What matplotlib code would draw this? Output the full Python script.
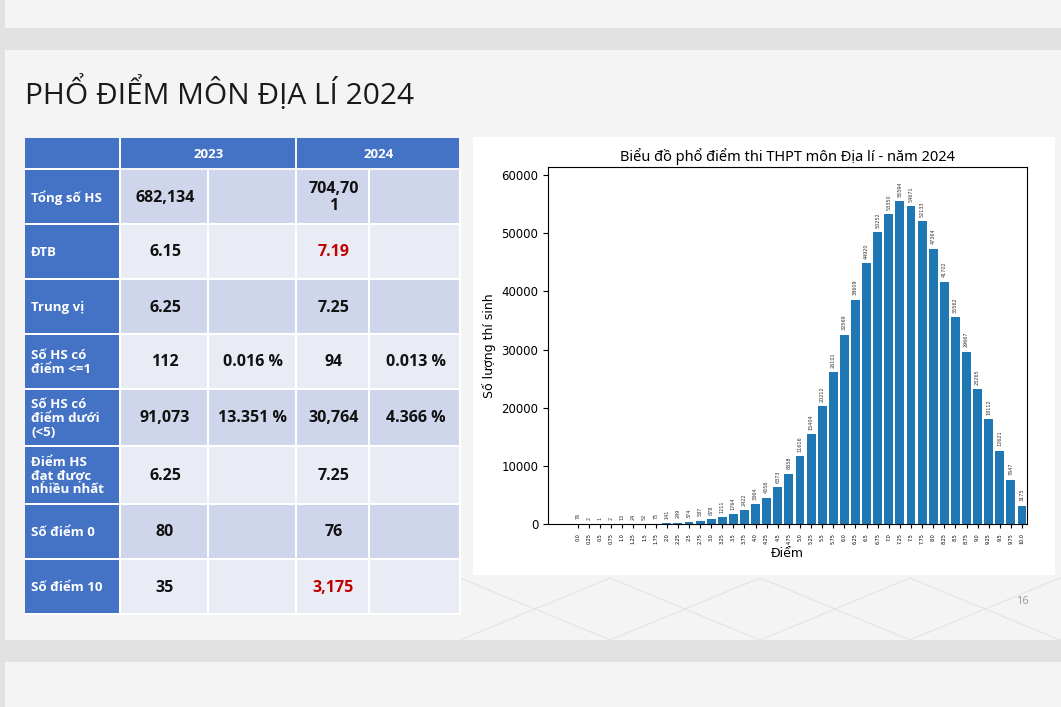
import numpy as np
import matplotlib.pyplot as plt
from matplotlib.patches import Rectangle

# ---- du lieu ----
diem = np.arange(0, 10.01, 0.25)
so_luong = [76, 2, 1, 2, 13, 24, 52, 75, 141, 249, 374, 587, 878, 1211, 1764,
            2422, 3364, 4556, 6373, 8658, 11616, 15404, 20212, 26101, 32569,
            38609, 44920, 50252, 53350, 55594, 54671, 52133, 47364, 41702,
            35562, 29667, 23265, 18112, 12621, 7647, 3175]
nhan_diem = ["%.1f" % d if (d * 100) % 50 == 0 else "%.2f" % d for d in diem]

hang = ["Tổng số HS", "ĐTB", "Trung vị", "Số HS có\nđiểm <=1",
        "Số HS có\nđiểm dưới\n(<5)", "Điểm HS\nđạt được\nnhiều nhất",
        "Số điểm 0", "Số điểm 10"]
gt_2023 = ["682,134", "6.15", "6.25", "112", "91,073", "6.25", "80", "35"]
pt_2023 = ["", "", "", "0.016 %", "13.351 %", "", "", ""]
gt_2024 = ["704,70\n1", "7.19", "7.25", "94", "30,764", "7.25", "76", "3,175"]
pt_2024 = ["", "", "", "0.013 %", "4.366 %", "", "", ""]
do_2024 = {1, 7}   # o to mau do

W, H = 1061, 707
fig = plt.figure(figsize=(W / 100, H / 100), dpi=100)
fig.patch.set_facecolor('#f3f3f3')

# nen trang chieu (toa do pixel)
bg = fig.add_axes([0, 0, 1, 1])
bg.set_xlim(0, W)
bg.set_ylim(H, 0)
bg.axis('off')

def o_vuong(x, y, w, h, mau, z=1):
    bg.add_patch(Rectangle((x, y), w, h, facecolor=mau, lw=0, zorder=z))

o_vuong(0, 0, W, 28, '#f4f4f4')
o_vuong(0, 28, W, 22, '#e1e1e1')
o_vuong(0, 640, W, 22, '#e1e1e1')
o_vuong(0, 0, 5, H, '#e1e1e1')
o_vuong(5, 50, W - 5, 590, '#f4f4f4')
o_vuong(5, 662, W - 5, 45, '#f4f4f4')
# hoa van mo o chan trang
for x0 in range(460, W, 150):
    bg.plot([x0, x0 + 150], [640, 578], color='#e4e4e4', lw=0.8, zorder=1.5)
    bg.plot([x0, x0 + 150], [578, 640], color='#e4e4e4', lw=0.8, zorder=1.5)
bg.text(25, 93, "PHỔ ĐIỂM MÔN ĐỊA LÍ 2024", fontsize=21.5, family='Open Sans',
        color='#1a1a1a', va='center', ha='left')
bg.text(1022, 602, "16", fontsize=8, color='#9a9a9a', ha='center', va='center',
        family='Open Sans')

# ---- bang ----
xs = [25, 121, 209, 297, 370, 461]
ys = [138, 170, 225, 280, 335, 390, 447, 505, 560, 615]
xanh = '#4472c4'
nhat = ['#cfd5ea', '#e9ebf5']
gap = 2
o_vuong(xs[0], ys[0], xs[1] - xs[0], ys[-1] - ys[0], 'white', 2)
o_vuong(xs[0], ys[0], xs[1] - xs[0] - gap, ys[1] - ys[0] - gap, xanh, 3)
for (a, b, nam) in [(1, 3, "2023"), (3, 5, "2024")]:
    o_vuong(xs[a], ys[0], xs[b] - xs[a] - gap, ys[1] - ys[0] - gap, xanh, 3)
    bg.text((xs[a] + xs[b]) / 2, (ys[0] + ys[1]) / 2, nam, color='white',
            fontsize=9.5, weight='bold', ha='center', va='center', family='Open Sans',
            zorder=4)
o_vuong(xs[1], ys[1], xs[-1] - xs[1], ys[-1] - ys[1], 'white', 2)
for i, ten in enumerate(hang):
    y0, y1 = ys[i + 1], ys[i + 2]
    o_vuong(xs[0], y0, xs[1] - xs[0] - gap, y1 - y0 - gap, xanh, 3)
    bg.text(xs[0] + 6, (y0 + y1) / 2, ten, color='white', fontsize=9.5,
            weight='bold', ha='left', va='center', family='Open Sans',
            linespacing=1.05, zorder=4)
    o = [gt_2023[i], pt_2023[i], gt_2024[i], pt_2024[i]]
    for j in range(4):
        o_vuong(xs[j + 1], y0, xs[j + 2] - xs[j + 1] - gap, y1 - y0 - gap, nhat[i % 2], 3)
        mau = '#c00000' if (j == 2 and i in do_2024) else '#111111'
        bg.text((xs[j + 1] + xs[j + 2]) / 2, (y0 + y1) / 2, o[j], color=mau,
                fontsize=11.5, weight='bold', ha='center', va='center',
                family='Open Sans', linespacing=1.1, zorder=4)

# khung trang cho bieu do
o_vuong(473, 137, 582, 438, 'white', 3)

# ---- bieu do ----
ax = fig.add_axes([548 / W, 1 - 524 / H, (1027 - 548) / W, (524 - 167) / H])
vt = np.arange(len(diem))
bars = ax.bar(vt, so_luong, width=0.8, color='#1f77b4')
ax.bar_label(bars, labels=[str(v) for v in so_luong], rotation=90, fontsize=3.5,
             padding=3, color='#333333')
ax.set_xticks(vt)
ax.set_xticklabels(nhan_diem, rotation=90, fontsize=3.5)
ax.set_xlim(-2.7, 40.45)
ax.set_ylim(0, 61400)
ax.tick_params(axis='y', labelsize=8.5)
ax.tick_params(axis='x', length=3)
ax.set_title("Biểu đồ phổ điểm thi THPT môn Địa lí - năm 2024", fontsize=10.5,
             family='Noto Sans', pad=4)
ax.set_xlabel("Điểm", fontsize=9, labelpad=2)
ax.set_ylabel("Số lượng thí sinh", fontsize=9)

fig.savefig("out.png", dpi=100)
